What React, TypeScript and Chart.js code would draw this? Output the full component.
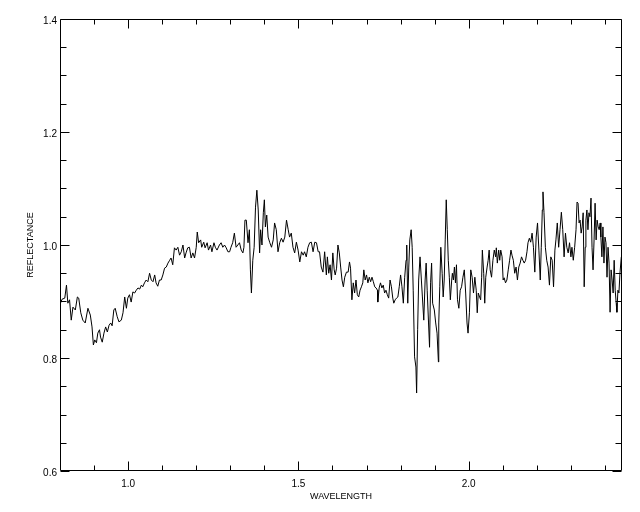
import React, { useEffect, useRef } from "react";
import { Chart, registerables } from "chart.js";

Chart.register(...registerables);

const WAVELENGTH = [
  0.800, 0.806, 0.814, 0.819, 0.823, 0.828, 0.833, 0.838, 0.845, 0.851,
  0.855, 0.861, 0.867, 0.874, 0.882, 0.889, 0.894, 0.898, 0.902, 0.907,
  0.911, 0.916, 0.919, 0.924, 0.929, 0.934, 0.939, 0.944, 0.949, 0.953,
  0.958, 0.962, 0.968, 0.973, 0.980, 0.985, 0.990, 0.995, 0.999, 1.004,
  1.009, 1.014, 1.019, 1.024, 1.029, 1.034, 1.039, 1.043, 1.048, 1.053,
  1.058, 1.063, 1.068, 1.073, 1.078, 1.082, 1.087, 1.092, 1.097, 1.102,
  1.107, 1.112, 1.117, 1.122, 1.126, 1.131, 1.136, 1.141, 1.146, 1.151,
  1.156, 1.161, 1.166, 1.170, 1.175, 1.180, 1.185, 1.190, 1.195, 1.200,
  1.203, 1.207, 1.213, 1.216, 1.222, 1.226, 1.232, 1.236, 1.242, 1.246,
  1.252, 1.256, 1.261, 1.268, 1.273, 1.278, 1.283, 1.288, 1.293, 1.298,
  1.302, 1.307, 1.312, 1.317, 1.322, 1.327, 1.332, 1.337, 1.340, 1.343,
  1.347, 1.352, 1.356, 1.359, 1.362, 1.366, 1.370, 1.374, 1.378, 1.382,
  1.386, 1.389, 1.393, 1.397, 1.400, 1.403, 1.407, 1.411, 1.416, 1.421,
  1.426, 1.430, 1.435, 1.440, 1.445, 1.450, 1.455, 1.460, 1.465, 1.470,
  1.474, 1.479, 1.484, 1.489, 1.494, 1.499, 1.504, 1.509, 1.514, 1.518,
  1.523, 1.528, 1.533, 1.538, 1.543, 1.548, 1.553, 1.558, 1.562, 1.567,
  1.572, 1.577, 1.582, 1.585, 1.589, 1.593, 1.597, 1.601, 1.605, 1.608,
  1.612, 1.616, 1.620, 1.624, 1.628, 1.632, 1.636, 1.641, 1.646, 1.650,
  1.653, 1.657, 1.661, 1.665, 1.669, 1.673, 1.677, 1.681, 1.685, 1.689,
  1.692, 1.696, 1.700, 1.704, 1.708, 1.712, 1.716, 1.720, 1.724, 1.728,
  1.732, 1.733, 1.737, 1.741, 1.745, 1.749, 1.753, 1.757, 1.761, 1.765,
  1.769, 1.773, 1.777, 1.780, 1.784, 1.788, 1.792, 1.796, 1.800, 1.804,
  1.808, 1.812, 1.816, 1.818, 1.821, 1.824, 1.827, 1.831, 1.834, 1.837,
  1.841, 1.845, 1.847, 1.850, 1.853, 1.857, 1.861, 1.864, 1.868, 1.872,
  1.875, 1.878, 1.882, 1.885, 1.888, 1.891, 1.894, 1.899, 1.903, 1.907,
  1.911, 1.912, 1.915, 1.918, 1.922, 1.925, 1.928, 1.931, 1.934, 1.937,
  1.940, 1.943, 1.946, 1.950, 1.952, 1.955, 1.958, 1.961, 1.964, 1.967,
  1.971, 1.975, 1.979, 1.983, 1.987, 1.991, 1.995, 1.998, 2.002, 2.006,
  2.010, 2.014, 2.018, 2.022, 2.025, 2.028, 2.032, 2.035, 2.038, 2.040,
  2.044, 2.047, 2.050, 2.054, 2.057, 2.060, 2.063, 2.067, 2.071, 2.075,
  2.079, 2.081, 2.084, 2.088, 2.091, 2.094, 2.098, 2.101, 2.104, 2.108,
  2.112, 2.116, 2.120, 2.124, 2.127, 2.131, 2.135, 2.139, 2.143, 2.147,
  2.151, 2.155, 2.159, 2.163, 2.167, 2.171, 2.174, 2.178, 2.182, 2.186,
  2.190, 2.194, 2.198, 2.202, 2.206, 2.210, 2.213, 2.216, 2.218, 2.221,
  2.225, 2.229, 2.233, 2.237, 2.241, 2.245, 2.249, 2.253, 2.256, 2.260,
  2.264, 2.268, 2.272, 2.276, 2.280, 2.284, 2.288, 2.292, 2.296, 2.300,
  2.303, 2.307, 2.311, 2.315, 2.318, 2.321, 2.324, 2.327, 2.330, 2.333,
  2.336, 2.339, 2.342, 2.344, 2.347, 2.350, 2.353, 2.356, 2.359, 2.362,
  2.365, 2.368, 2.371, 2.374, 2.377, 2.380, 2.383, 2.386, 2.388, 2.391,
  2.394, 2.397, 2.400, 2.403, 2.406, 2.409, 2.412, 2.415, 2.418, 2.421,
  2.424, 2.427, 2.430, 2.433, 2.435, 2.438, 2.441, 2.444, 2.448,
];

const REFLECTANCE = [
  0.895, 0.904, 0.906, 0.929, 0.897, 0.903, 0.867, 0.890, 0.885, 0.908,
  0.906, 0.880, 0.867, 0.862, 0.888, 0.876, 0.855, 0.823, 0.832, 0.827,
  0.844, 0.850, 0.837, 0.828, 0.844, 0.855, 0.846, 0.858, 0.862, 0.857,
  0.885, 0.888, 0.873, 0.864, 0.867, 0.880, 0.908, 0.888, 0.906, 0.912,
  0.899, 0.917, 0.915, 0.920, 0.924, 0.922, 0.929, 0.926, 0.933, 0.938,
  0.935, 0.950, 0.938, 0.935, 0.947, 0.933, 0.927, 0.938, 0.938, 0.947,
  0.959, 0.961, 0.968, 0.973, 0.977, 0.965, 0.995, 0.991, 0.996, 0.982,
  0.988, 1.000, 0.977, 0.986, 0.995, 0.996, 0.977, 0.986, 0.977, 0.996,
  1.023, 1.004, 1.009, 0.996, 1.005, 0.995, 1.004, 0.991, 1.000, 0.988,
  1.004, 0.996, 0.991, 1.000, 1.004, 0.996, 1.000, 0.995, 0.988, 0.988,
  0.996, 1.004, 1.021, 0.996, 1.000, 1.004, 0.991, 0.986, 0.996, 1.044,
  1.044, 1.004, 1.027, 0.956, 0.915, 0.973, 0.996, 1.067, 1.097, 1.062,
  0.986, 1.027, 1.000, 1.057, 1.080, 1.032, 1.053, 1.014, 1.004, 0.996,
  1.009, 1.039, 1.027, 0.988, 1.004, 1.012, 1.005, 1.014, 1.044, 1.027,
  1.014, 1.021, 0.996, 0.986, 1.005, 0.991, 0.970, 0.988, 0.982, 0.988,
  0.979, 0.996, 1.004, 1.005, 0.988, 1.005, 1.004, 0.988, 0.988, 0.961,
  0.952, 0.988, 0.947, 0.979, 0.950, 0.965, 0.938, 0.986, 0.956, 0.947,
  0.959, 1.000, 0.986, 0.961, 0.938, 0.926, 0.943, 0.952, 0.952, 0.970,
  0.959, 0.903, 0.933, 0.915, 0.938, 0.912, 0.908, 0.920, 0.926, 0.933,
  0.956, 0.938, 0.947, 0.933, 0.943, 0.935, 0.943, 0.935, 0.926, 0.924,
  0.920, 0.899, 0.924, 0.933, 0.924, 0.929, 0.915, 0.920, 0.912, 0.906,
  0.938, 0.926, 0.906, 0.897, 0.903, 0.906, 0.908, 0.926, 0.947, 0.926,
  0.897, 0.943, 0.973, 1.000, 0.897, 0.961, 1.009, 1.027, 0.996, 0.920,
  0.802, 0.784, 0.738, 0.850, 0.938, 0.979, 0.938, 0.908, 0.867, 0.938,
  0.968, 0.920, 0.862, 0.819, 0.933, 0.968, 0.897, 0.885, 0.862, 0.844,
  0.793, 0.862, 0.926, 0.996, 0.950, 0.908, 0.938, 1.009, 1.080, 1.027,
  0.973, 0.943, 0.903, 0.938, 0.950, 0.938, 0.961, 0.933, 0.965, 0.903,
  0.888, 0.920, 0.926, 0.943, 0.956, 0.915, 0.862, 0.844, 0.880, 0.956,
  0.943, 0.915, 0.943, 0.920, 0.880, 0.915, 0.908, 0.903, 0.943, 0.991,
  0.950, 0.897, 0.943, 0.961, 0.973, 0.991, 0.956, 0.943, 0.973, 0.991,
  0.979, 0.995, 0.968, 0.991, 0.973, 0.991, 0.979, 0.938, 0.942, 0.933,
  0.938, 0.956, 0.973, 0.991, 0.982, 0.973, 0.950, 0.961, 0.938, 0.961,
  0.968, 0.979, 0.973, 0.968, 0.973, 0.988, 1.004, 1.012, 1.005, 1.021,
  0.996, 0.952, 1.014, 1.039, 0.991, 0.938, 0.996, 1.062, 1.094, 1.057,
  0.996, 0.973, 0.961, 0.929, 0.979, 0.973, 0.926, 0.991, 1.009, 1.039,
  0.996, 1.027, 1.058, 1.027, 0.979, 1.021, 0.996, 0.986, 1.004, 0.979,
  0.996, 0.973, 0.996, 1.027, 1.076, 1.074, 1.039, 1.044, 1.021, 1.032,
  1.057, 0.926, 0.996, 1.044, 1.062, 1.027, 1.057, 1.050, 1.083, 0.996,
  0.956, 1.009, 1.074, 1.009, 1.044, 1.032, 1.027, 1.039, 1.014, 0.979,
  1.032, 0.968, 1.014, 1.004, 0.943, 0.996, 0.968, 0.881, 0.956, 0.938,
  0.915, 0.973, 0.920, 0.897, 0.881, 0.920, 0.915, 0.950, 0.979,
];

const X_MIN = 0.8;
const X_MAX = 2.45;
const Y_MIN = 0.6;
const Y_MAX = 1.4;
const X_MAJOR_TICKS = [1.0, 1.5, 2.0];
const X_MINOR_TICKS = [0.9, 1.1, 1.2, 1.3, 1.4, 1.6, 1.7, 1.8, 1.9, 2.1, 2.2, 2.3, 2.4];
const Y_MAJOR_TICKS = [0.6, 0.8, 1.0, 1.2, 1.4];
const Y_MINOR_TICKS = [0.65, 0.7, 0.75, 0.85, 0.9, 0.95, 1.05, 1.1, 1.15, 1.25, 1.3, 1.35];
const X_TITLE = "WAVELENGTH";
const Y_TITLE = "REFLECTANCE";

const FONT = "'Liberation Sans', Arial, Helvetica, sans-serif";

const framePlugin = {
  id: "idlFrame",
  afterDatasetsDraw(chart: any) {
    const { ctx, chartArea, scales } = chart;
    const { left, right, top, bottom } = chartArea;
    const xs = scales.x;
    const ys = scales.y;
    ctx.save();
    ctx.strokeStyle = "#000";
    ctx.lineWidth = 1;
    ctx.beginPath();
    const L = Math.round(left) + 0.5;
    const R = Math.round(right) - 0.5;
    const T = Math.round(top) + 0.5;
    const B = Math.round(bottom) - 0.5;
    ctx.rect(L, T, R - L, B - T);
    const xTick = (v: number, len: number) => {
      const px = Math.round(xs.getPixelForValue(v)) + 0.5;
      ctx.moveTo(px, B);
      ctx.lineTo(px, B - len);
      ctx.moveTo(px, T);
      ctx.lineTo(px, T + len);
    };
    const yTick = (v: number, len: number) => {
      const py = Math.round(ys.getPixelForValue(v)) + 0.5;
      ctx.moveTo(L, py);
      ctx.lineTo(L + len, py);
      ctx.moveTo(R, py);
      ctx.lineTo(R - len, py);
    };
    X_MAJOR_TICKS.forEach((v) => xTick(v, 9));
    X_MINOR_TICKS.forEach((v) => xTick(v, 5));
    Y_MAJOR_TICKS.forEach((v) => yTick(v, 9));
    Y_MINOR_TICKS.forEach((v) => yTick(v, 6));
    ctx.stroke();
    ctx.restore();
  },
};

export default function App() {
  const canvasRef = useRef<HTMLCanvasElement | null>(null);

  useEffect(() => {
    const canvas = canvasRef.current;
    if (!canvas) return;
    const points = WAVELENGTH.map((w, i) => ({ x: w, y: REFLECTANCE[i] }));
    const chart = new Chart(canvas, {
      type: "line",
      data: {
        datasets: [
          {
            data: points,
            borderColor: "#000",
            borderWidth: 1,
            pointRadius: 0,
            tension: 0,
            fill: false,
          },
        ],
      },
      options: {
        animation: false,
        responsive: false,
        devicePixelRatio: 1,
        events: [],
        layout: { padding: { left: 0, top: 19, right: 18, bottom: 0 } },
        plugins: {
          legend: { display: false },
          tooltip: { enabled: false },
        },
        scales: {
          x: {
            type: "linear",
            min: X_MIN,
            max: X_MAX,
            afterBuildTicks: (scale: any) => {
              scale.ticks = X_MAJOR_TICKS.map((v) => ({ value: v }));
            },
            afterFit: (scale: any) => {
              scale.height = 41;
            },
            ticks: {
              callback: (v: any) => Number(v).toFixed(1),
              font: { family: FONT, size: 10 },
              color: "#000",
              padding: 7,
              maxRotation: 0,
              autoSkip: false,
            },
            grid: { display: false, drawTicks: false },
            border: { display: false },
            title: {
              display: true,
              text: X_TITLE,
              font: { family: FONT, size: 9 },
              color: "#000",
              padding: { top: 0, bottom: 10 },
            },
          },
          y: {
            type: "linear",
            min: Y_MIN,
            max: Y_MAX,
            afterBuildTicks: (scale: any) => {
              scale.ticks = Y_MAJOR_TICKS.map((v) => ({ value: v }));
            },
            afterFit: (scale: any) => {
              scale.width = 60;
            },
            ticks: {
              callback: (v: any) => Number(v).toFixed(1),
              font: { family: FONT, size: 10 },
              color: "#000",
              padding: 3,
              labelOffset: 2,
              autoSkip: false,
            },
            grid: { display: false, drawTicks: false },
            border: { display: false },
            title: {
              display: true,
              text: Y_TITLE,
              font: { family: FONT, size: 9 },
              color: "#000",
              padding: { top: 25, bottom: 0 },
            },
          },
        },
      },
      plugins: [framePlugin],
    } as any);
    return () => chart.destroy();
  }, []);

  return (
    <div style={{ position: "absolute", left: 0, top: 0, width: 640, height: 512, background: "#fff" }}>
      <canvas ref={canvasRef} width={640} height={512} style={{ display: "block", width: 640, height: 512 }} />
    </div>
  );
}
